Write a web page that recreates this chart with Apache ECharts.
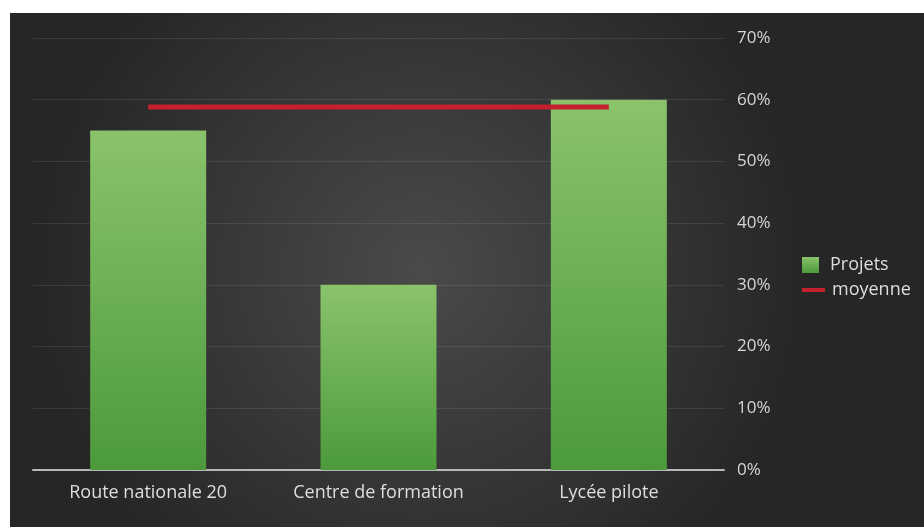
<!DOCTYPE html>
<html>
<head>
<meta charset="utf-8">
<script src="https://cdn.jsdelivr.net/npm/echarts@6/dist/echarts.min.js"></script>
<style>
html,body{margin:0;padding:0;background:#fff;}
#c{width:924px;height:527px;}
</style>
</head>
<body>
<div id="c"></div>
<script>
const categories = ['Route nationale 20', 'Centre de formation', 'Lycée pilote'];
const projets = [55, 30, 60];
const moyenne = [58.8, 58.8, 58.8];
const yTicks = { min: 0, max: 70, interval: 10 };

const chart = echarts.init(document.getElementById('c'), null, { renderer: 'canvas' });
const font = '"Open Sans", "DejaVu Sans", sans-serif';
chart.setOption({
  backgroundColor: '#ffffff',
  animation: false,
  graphic: [{
    type: 'rect', left: 10, top: 13, z: -10,
    shape: { width: 914, height: 514 },
    style: {
      fill: {
        type: 'radial', x: 0.45, y: 0.5, r: 0.75,
        colorStops: [{ offset: 0, color: '#4a4a4a' }, { offset: 1, color: '#262626' }]
      }
    }
  }],
  grid: { left: 33, right: 200, top: 38, bottom: 57 },
  legend: [{
    data: ['Projets'], orient: 'vertical', left: 797, top: 251,
    itemWidth: 17, itemHeight: 16, icon: 'rect',
    textStyle: { color: '#dedede', fontSize: 18, fontFamily: font, padding: [0, 0, 0, 6] }
  }, {
    data: ['moyenne'], orient: 'vertical', left: 797, top: 276,
    itemWidth: 23, itemHeight: 4, icon: 'rect',
    textStyle: { color: '#dedede', fontSize: 18, fontFamily: font, padding: [0, 0, 0, 2] }
  }],
  xAxis: {
    type: 'category', data: categories, boundaryGap: true,
    axisLine: { lineStyle: { color: '#b8b8b8', width: 2 } },
    axisTick: { show: false },
    axisLabel: { color: '#dedede', fontSize: 18, fontFamily: font, margin: 14 }
  },
  yAxis: {
    type: 'value', position: 'right', min: yTicks.min, max: yTicks.max, interval: yTicks.interval,
    axisLine: { show: false }, axisTick: { show: false },
    splitLine: { lineStyle: { color: 'rgba(255,255,255,0.09)', width: 1 } },
    axisLabel: { color: '#d6d6d6', fontSize: 17, fontFamily: font, margin: 13, formatter: '{value}%' }
  },
  series: [{
    name: 'Projets', type: 'bar', data: projets, barWidth: 116,
    itemStyle: {
      color: { type: 'linear', x: 0, y: 0, x2: 0, y2: 1,
        colorStops: [{ offset: 0, color: '#8ac36b' }, { offset: 1, color: '#4c9a3c' }] }
    }
  }, {
    name: 'moyenne', type: 'line', data: moyenne, symbol: 'none', z: 5,
    itemStyle: { color: '#c4202e' },
    lineStyle: { color: '#c4202e', width: 5 }
  }]
});
</script>
</body>
</html>
